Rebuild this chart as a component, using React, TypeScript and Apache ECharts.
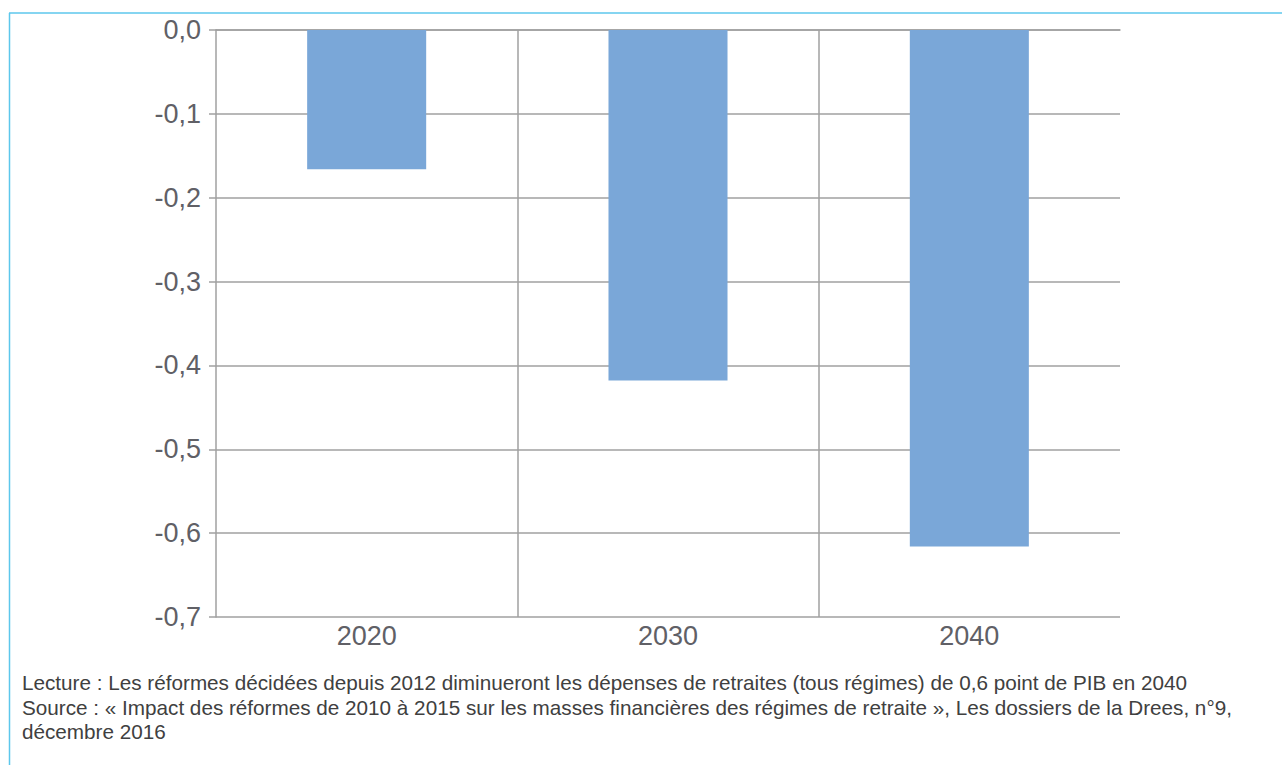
import React, { useEffect, useRef } from "react";
import * as echarts from "echarts";

const categories = ["2020", "2030", "2040"];
const values = [-0.166, -0.418, -0.616];
const yTicks = { min: -0.7, max: 0, interval: 0.1 };
const boundaries = [1, 2];
const noteLines = [
  "Lecture : Les réformes décidées depuis 2012 diminueront les dépenses de retraites (tous régimes) de 0,6 point de PIB en 2040",
  "Source : « Impact des réformes de 2010 à 2015 sur les masses financières des régimes de retraite », Les dossiers de la Drees, n°9,",
  "décembre 2016",
];

export default function App() {
  const ref = useRef<HTMLDivElement>(null);
  useEffect(() => {
    document.body.style.margin = "0";
    const chart = echarts.init(ref.current!, null, { renderer: "svg" });
    const font = "'Liberation Sans', Arial, sans-serif";
    const gridColor = "#a0a0a0";
    chart.setOption({
      animation: false,
      backgroundColor: "#ffffff",
      grid: { left: 216, right: 162, top: 30, bottom: 148 },
      xAxis: [
        {
          type: "category",
          data: categories,
          boundaryGap: true,
          axisLine: { show: true, lineStyle: { color: gridColor, width: 1.5 } },
          axisTick: { show: false },
          axisLabel: { color: "#606066", fontSize: 27, fontFamily: font, margin: 5 },
          splitLine: { show: false },
        },
        {
          type: "value",
          min: 0,
          max: categories.length,
          show: false,
          splitLine: { show: false },
        },
      ],
      yAxis: {
        type: "value",
        min: yTicks.min,
        max: yTicks.max,
        interval: yTicks.interval,
        axisLine: { show: true, lineStyle: { color: gridColor, width: 1.5 } },
        axisTick: { show: true, length: 7, lineStyle: { color: gridColor, width: 1.5 } },
        axisLabel: {
          color: "#606066",
          fontSize: 27,
          fontFamily: font,
          margin: 15,
          formatter: (v: number) => (Math.abs(v) < 1e-9 ? 0 : v).toFixed(1).replace(".", ","),
        },
        splitLine: { show: true, lineStyle: { color: gridColor, width: 1.5 } },
      },
      series: [
        {
          type: "bar",
          data: values,
          barWidth: "39.5%",
          itemStyle: { color: "#7aa7d8" },
          z: 3,
        },
        {
          type: "line",
          xAxisIndex: 1,
          yAxisIndex: 0,
          data: [],
          silent: true,
          z: 1,
          markLine: {
            silent: true,
            symbol: "none",
            label: { show: false },
            lineStyle: { color: gridColor, width: 1.5, type: "solid" },
            data: boundaries.map((b) => ({ xAxis: b })),
          },
        },
      ],
      graphic: [
        {
          type: "line",
          shape: { x1: 9, y1: 13, x2: 1282, y2: 13 },
          style: { stroke: "#5cc7ec", lineWidth: 1.5 },
        },
        {
          type: "line",
          shape: { x1: 9.5, y1: 13, x2: 9.5, y2: 765 },
          style: { stroke: "#5cc7ec", lineWidth: 1.5 },
        },
        ...noteLines.map((t, i) => ({
          type: "text",
          left: 22,
          top: 672 + i * 24.5,
          style: { text: t, fill: "#404040", font: `20.7px ${font}` },
        })),
      ],
    });
    return () => chart.dispose();
  }, []);
  return <div ref={ref} style={{ width: 1282, height: 765 }} />;
}
